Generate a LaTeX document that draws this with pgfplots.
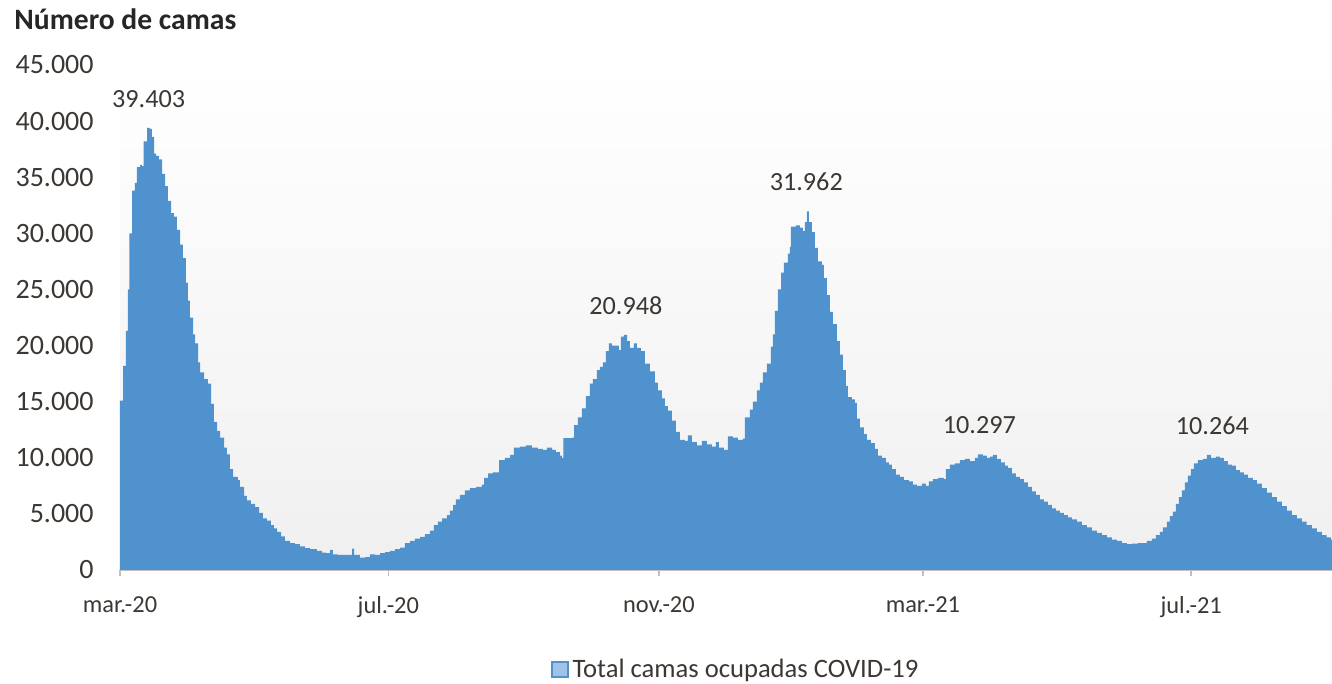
\documentclass[border=0pt]{standalone}
\usepackage{pgfplots}
\pgfplotsset{compat=1.18}
\usepackage{fontspec}
\setmainfont{Carlito}
\definecolor{barblue}{RGB}{79,146,205}
\definecolor{txt}{RGB}{60,55,50}
\definecolor{ttl}{RGB}{38,38,38}
\begin{document}
\begin{tikzpicture}
\path[use as bounding box] (-60pt,-57pt) rectangle (606pt,285pt);
\begin{axis}[
  scale only axis, width=606pt, height=252.5pt,
  xmin=0, xmax=551, ymin=0, ymax=45000,
  axis background/.style={shade, top color=white, bottom color=black!6, draw=none},
  separate axis lines,
  axis x line*=bottom, axis y line*=left,
  x axis line style={draw=black!25, line width=0.8pt},
  y axis line style={draw=none},
  xtick={0,122,245,365,487},
  xticklabels={mar.-20, jul.-20, nov.-20, mar.-21, jul.-21},
  ytick={0,5000,...,45000},
  scaled y ticks=false,
  /pgf/number format/1000 sep={.},
  /pgf/number format/assume math mode=true,
  xtick style={draw=black!25, line width=0.8pt},
  ytick style={draw=none},
  tick align=outside, major tick length=3pt,
  yticklabel style={font=\fontsize{14}{16}\selectfont, text=txt, inner sep=0pt, xshift=-10pt},
  xticklabel style={font=\fontsize{12.2}{14}\selectfont, text=txt, inner sep=0pt, anchor=north, yshift=-10pt},
  legend style={draw=none, fill=none, inner sep=0pt, outer sep=0pt,
    at={(axis description cs:0.3556,-0.197)}, anchor=west,
    font=\fontsize{13.3}{15}\selectfont, text=txt,
    /tikz/every even column/.append style={column sep=2pt}},
  legend image code/.code={\draw[draw=barblue, fill=barblue!55!white, line width=0.8pt] (0pt,-3.8pt) rectangle (8pt,3.8pt);},
  clip=false,
]
\addplot[fill=barblue, draw=none, const plot] coordinates {
(0,15100) (1.4,18200) (2.7,21300) (3.6,25000) (4.3,30000) (5.5,33800) (6.8,34500) (7.7,35900)
(9.1,36100) (10.0,36000) (10.7,38200) (12.3,39403) (13.6,39300) (14.5,38600) (15.5,37100)
(16.4,36900) (17.7,36600) (19.1,35300) (20.5,34200) (21.8,32900) (23.2,31800) (24.5,31500)
(25.9,30300) (27.3,29000) (28.6,27800) (30.0,25600) (30.9,24000) (31.8,22500) (33.2,21000)
(34.1,20200) (35.5,18500) (36.4,17600) (38.2,17000) (40.0,16600) (41.4,14800) (42.7,13200)
(44.1,12400) (45.5,11800) (47.3,10900) (48.6,10300) (50.0,9000) (51.4,8300) (53.6,8000)
(54.5,7400) (56.4,6600) (57.7,6200) (59.5,5900) (61.4,5600) (63.2,5100) (65.0,4600)
(66.8,4400) (68.6,4000) (70.0,3700) (71.4,3400) (73.2,3000) (75.0,2600) (77.3,2400)
(79.5,2300) (81.8,2100) (84.1,1950) (86.4,1850) (89.5,1700) (91.8,1550) (93.6,1500)
(95.5,1800) (96.8,1400) (99.1,1350) (102.3,1350) (105.5,1900) (106.4,1350) (109.1,1100)
(111.4,1150) (113.6,1400) (115.9,1350) (118.2,1500) (120.5,1600) (122.7,1700) (125.0,1850)
(127.3,2000) (129.5,2400) (131.8,2600) (134.1,2800) (136.4,2950) (138.6,3200) (140.9,3500)
(142.7,4000) (144.5,4300) (146.4,4600) (148.6,4900) (150.0,5300) (151.4,5800) (152.7,6300)
(154.5,6700) (156.8,7100) (159.1,7300) (161.8,7400) (164.5,7600) (165.5,8200) (167.3,8600)
(169.5,8700) (171.4,8700) (172.3,9800) (175.0,10000) (177.3,10250) (179.1,10900) (181.8,11000)
(184.5,11100) (187.3,10900) (190.0,10800) (192.3,10700) (194.1,10900) (196.4,10700)
(198.2,10500) (200.0,10200) (200.9,10000) (201.6,11750) (205.5,11800) (206.4,12900)
(208.2,13600) (210.0,14400) (211.8,15500) (213.6,16600) (215.0,17000) (216.8,17800)
(218.2,18100) (219.5,18500) (220.9,19500) (222.3,20200) (223.6,20000) (225.9,20000)
(226.8,19600) (227.7,20800) (229.1,20948) (230.5,20400) (231.8,19800) (233.6,20200)
(235.0,19800) (236.8,19500) (238.6,18400) (240.9,17700) (243.2,16700) (244.5,16000)
(246.4,15300) (247.7,14600) (249.1,14200) (250.9,13300) (252.7,12300) (254.5,11600)
(256.8,11500) (258.2,12000) (260.0,11400) (262.3,11100) (264.5,11500) (266.8,11200)
(269.1,11000) (270.9,11400) (272.3,10900) (274.5,10700) (276.4,11900) (278.6,11800)
(280.9,11600) (283.2,11700) (284.1,13600) (286.4,14300) (287.7,15000) (289.5,16000)
(290.9,16700) (292.3,17600) (294.1,18400) (295.9,19900) (296.8,21000) (297.7,23100)
(299.1,25000) (300.5,26500) (301.8,27400) (303.6,28200) (304.5,28800) (305.0,30600)
(307.3,30700) (309.1,30500) (310.5,30200) (311.4,31000) (312.3,31962) (313.2,31000)
(314.5,30100) (315.9,28700) (317.3,27500) (319.1,27200) (320.0,26000) (321.4,24500)
(322.7,23000) (324.1,21900) (325.9,20400) (327.3,19200) (328.6,17800) (330.0,16400)
(330.9,15400) (332.7,15200) (334.1,14900) (335.0,13500) (336.4,12700) (338.2,12100)
(339.5,11600) (341.4,11300) (343.2,10800) (344.5,10200) (346.4,10000) (348.2,9600)
(349.5,9400) (350.9,9000) (352.7,8500) (354.5,8300) (356.4,8000) (358.6,7900) (360.5,7600)
(362.3,7500) (364.5,7700) (366.4,7500) (367.7,7900) (369.5,8100) (371.8,8200) (374.5,8100)
(375.5,9000) (377.3,9400) (379.5,9500) (381.8,9800) (384.1,9900) (386.4,9700) (388.6,10000)
(390.0,10297) (392.3,10200) (394.1,10000) (395.5,10100) (396.8,10250) (398.6,9900)
(400.5,9600) (402.3,9300) (403.6,9100) (405.5,8600) (407.3,8300) (409.1,8100) (410.9,7800)
(412.7,7400) (414.5,7000) (416.4,6700) (418.2,6300) (420.0,6100) (421.8,5800) (423.6,5500)
(425.5,5300) (427.3,5100) (429.1,4900) (430.9,4700) (432.7,4500) (435.0,4300) (437.3,4000)
(439.5,3800) (441.8,3500) (444.1,3300) (446.4,3100) (448.6,2900) (450.9,2700) (453.2,2600)
(455.5,2400) (457.7,2300) (460.0,2350) (462.7,2400) (465.0,2400) (466.8,2600) (469.1,2800)
(470.9,3100) (472.7,3400) (474.1,3800) (475.9,4300) (477.3,4800) (478.6,5200) (480.0,5900)
(481.4,6500) (482.7,7100) (484.1,7800) (485.5,8400) (486.8,9000) (488.2,9500) (490.0,9800)
(492.3,9900) (494.1,10264) (495.9,10000) (498.2,10100) (500.0,10000) (501.8,9700)
(503.6,9400) (505.5,9300) (507.3,8900) (509.1,8700) (510.9,8500) (512.7,8200) (515.0,8000)
(516.8,7700) (519.1,7300) (521.4,6900) (523.6,6500) (525.9,6100) (528.2,5700) (530.5,5300)
(532.7,4900) (535.0,4600) (537.3,4300) (539.5,4000) (541.8,3700) (544.1,3400) (546.4,3100)
(548.6,2900) (550.5,2700) (551,2700)
} \closedcycle;
\addlegendentry{Total camas ocupadas COVID-19}
\addplot[draw=none, mark=none, forget plot, point meta=explicit symbolic,
  nodes near coords,
  nodes near coords style={anchor=south, inner sep=0pt, yshift=10pt, font=\fontsize{13.1}{15}\selectfont, text=txt}]
coordinates {
(13,39403) [39.403]
(230,20948) [20.948]
(312,31962) [31.962]
(390.7,10297) [10.297]
(496.6,10264) [10.264]
};
\end{axis}
\node[anchor=base west, inner sep=0pt, font=\bfseries\fontsize{14.8}{17}\selectfont, text=ttl] at (-53pt,270pt) {Número de camas};
\end{tikzpicture}
\end{document}
